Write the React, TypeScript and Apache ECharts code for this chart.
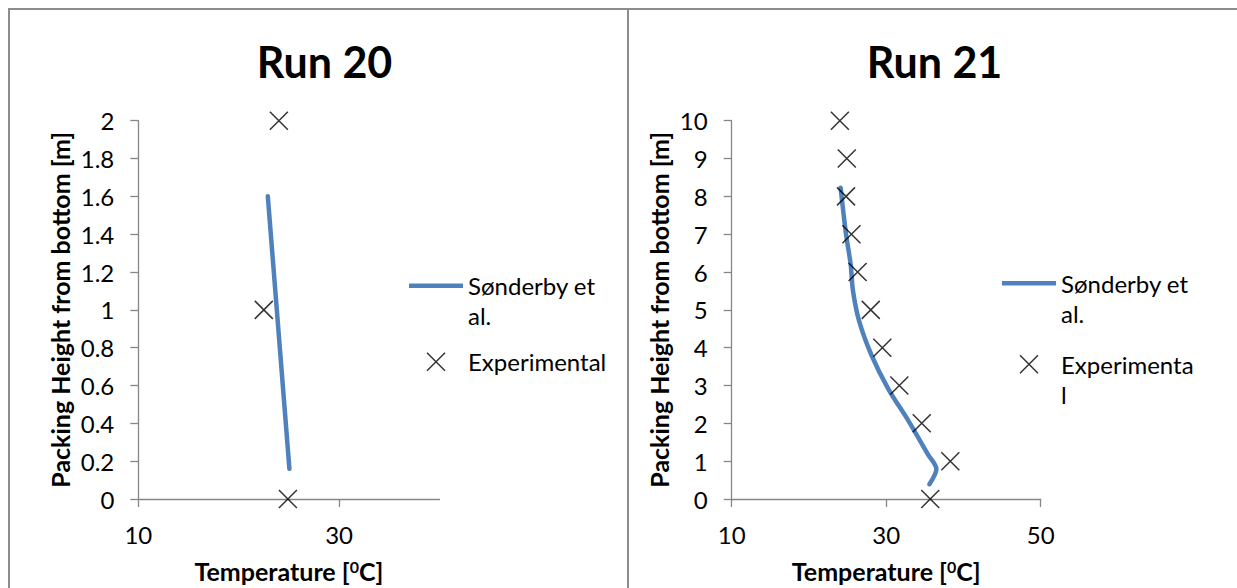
import React, { useEffect, useRef } from 'react';
import * as echarts from 'echarts';

// ---------- data ----------
const MODEL = 'Sønderby et al.';
const EXP = 'Experimental';
const titles = ['Run 20', 'Run 21'];

// Run 20: [temperature °C, packing height m]
const run20Model: [number, number][] = [
  [22.9, 1.6],
  [25.05, 0.16],
];
const run20Exp: [number, number][] = [
  [24.0, 2],
  [22.5, 1],
  [24.9, 0],
];

// Run 21
const run21Model: [number, number][] = [
  [24.1, 8.23],
  [24.8, 7.0],
  [25.4, 6.2],
  [25.7, 5.5],
  [26.5, 4.7],
  [28.1, 3.8],
  [30.3, 2.9],
  [32.9, 2.06],
  [35.4, 1.18],
  [36.5, 0.79],
  [35.6, 0.39],
];
const run21Exp: [number, number][] = [
  [24.0, 10],
  [24.9, 9],
  [24.8, 8],
  [25.5, 7],
  [26.3, 6],
  [28.0, 5],
  [29.5, 4],
  [31.7, 3],
  [34.6, 2],
  [38.3, 1],
  [35.7, 0],
];

const run20XTicks = [10, 30];
const run21XTicks = [10, 30, 50];

// ---------- styles ----------
const FONT = 'Lato';
const AXIS_GRAY = '#868686';
const BLUE = '#4f81bd';
const X_SYMBOL = 'path://M0,0L10,10M10,0L0,10';
const LINE_ICON = 'path://M0,0L54,0L54,4.5L0,4.5Z';

function xAxisOpt(grid: number, min: number, max: number, ticks: number[]) {
  return {
    type: 'value',
    gridIndex: grid,
    min,
    max,
    interval: 20,
    axisLine: { onZero: false, lineStyle: { color: AXIS_GRAY, width: 1.3 } },
    axisTick: {
      show: true,
      length: 8,
      customValues: ticks,
      lineStyle: { color: AXIS_GRAY, width: 1.3 },
    },
    axisLabel: {
      fontFamily: FONT,
      fontSize: 24,
      color: '#000',
      margin: 23,
      customValues: ticks,
    },
    splitLine: { show: false },
    name: 'Temperature [{sup|0}C]',
    nameLocation: 'middle',
    nameGap: 59,
    nameTextStyle: {
      fontFamily: FONT,
      fontSize: 25,
      fontWeight: 'bold',
      color: '#000',
      rich: {
        sup: {
          fontFamily: FONT,
          fontSize: 16,
          fontWeight: 'bold',
          color: '#000',
          verticalAlign: 'top',
        },
      },
    },
  };
}

function yAxisOpt(grid: number, max: number, interval: number, gap: number) {
  return {
    type: 'value',
    gridIndex: grid,
    min: 0,
    max,
    interval,
    axisLine: { show: true, onZero: false, lineStyle: { color: AXIS_GRAY, width: 1.3 } },
    axisTick: { show: true, length: 8, lineStyle: { color: AXIS_GRAY, width: 1.3 } },
    axisLabel: { fontFamily: FONT, fontSize: 24, color: '#000', margin: 24 },
    splitLine: { show: false },
    name: 'Packing Height from bottom [m]',
    nameLocation: 'middle',
    nameGap: gap,
    nameTextStyle: { fontFamily: FONT, fontSize: 25, fontWeight: 'bold', color: '#000' },
  };
}

function lineSeries(idx: number, data: [number, number][]) {
  return {
    type: 'line',
    name: MODEL,
    xAxisIndex: idx,
    yAxisIndex: idx,
    data,
    symbol: 'none',
    smooth: 0.3,
    silent: true,
    z: 2,
    lineStyle: { color: BLUE, width: 4.5, cap: 'round', join: 'round' },
    itemStyle: { color: BLUE },
  };
}

function scatterSeries(idx: number, data: [number, number][]) {
  return {
    type: 'scatter',
    name: EXP,
    xAxisIndex: idx,
    yAxisIndex: idx,
    data,
    symbol: X_SYMBOL,
    symbolSize: 18,
    silent: true,
    z: 3,
    itemStyle: { color: 'rgba(0,0,0,0)', borderColor: '#000', borderWidth: 1.5 },
  };
}

function legendOpt(left: number, top: number, gap: number, expText: string) {
  return {
    left,
    top,
    orient: 'vertical',
    padding: 0,
    itemWidth: 54,
    itemHeight: 18,
    itemGap: gap,
    selectedMode: false,
    textStyle: { fontFamily: FONT, fontSize: 24, color: '#000', lineHeight: 30 },
    formatter: (n: string) => (n === MODEL ? '\nSønderby et\nal.' : expText),
    data: [
      { name: MODEL, icon: LINE_ICON, itemStyle: { borderWidth: 0 } },
      { name: EXP, itemStyle: { borderWidth: 1.5 } },
    ],
  };
}

const borderStyle = { stroke: '#8c8c8c', lineWidth: 2 };

export default function App() {
  const ref = useRef<HTMLDivElement>(null);

  useEffect(() => {
    if (!ref.current) return;
    const chart = echarts.init(ref.current, undefined, { renderer: 'svg' });
    chart.setOption({
      animation: false,
      backgroundColor: '#fff',
      graphic: [
        { type: 'line', shape: { x1: 8, y1: 9, x2: 1237, y2: 9 }, style: borderStyle },
        { type: 'line', shape: { x1: 9, y1: 8, x2: 9, y2: 588 }, style: borderStyle },
        { type: 'line', shape: { x1: 628, y1: 8, x2: 628, y2: 588 }, style: borderStyle },
      ],
      title: [
        {
          text: titles[0],
          left: 324.5,
          top: 39.5,
          textAlign: 'center',
          padding: 0,
          textStyle: { fontFamily: FONT, fontWeight: 'bold', fontSize: 43, color: '#000' },
        },
        {
          text: titles[1],
          left: 934.5,
          top: 39.5,
          textAlign: 'center',
          padding: 0,
          textStyle: { fontFamily: FONT, fontWeight: 'bold', fontSize: 43, color: '#000' },
        },
      ],
      legend: [
        legendOpt(409, 240.7, 16, 'Experimental'),
        legendOpt(1002, 238.3, -9, '\nExperimenta\nl'),
      ],
      grid: [
        { left: 138.3, top: 120.7, width: 301.2, height: 381, containLabel: false },
        { left: 731.7, top: 120.7, width: 309, height: 381, containLabel: false },
      ],
      xAxis: [xAxisOpt(0, 10, 40, run20XTicks), xAxisOpt(1, 10, 50, run21XTicks)],
      yAxis: [yAxisOpt(0, 2, 0.2, 66), yAxisOpt(1, 10, 1, 60)],
      series: [
        lineSeries(0, run20Model),
        scatterSeries(0, run20Exp),
        lineSeries(1, run21Model),
        scatterSeries(1, run21Exp),
      ],
    });
    return () => chart.dispose();
  }, []);

  return (
    <div
      ref={ref}
      style={{ position: 'fixed', left: 0, top: 0, width: 1237, height: 588, background: '#fff' }}
    />
  );
}
